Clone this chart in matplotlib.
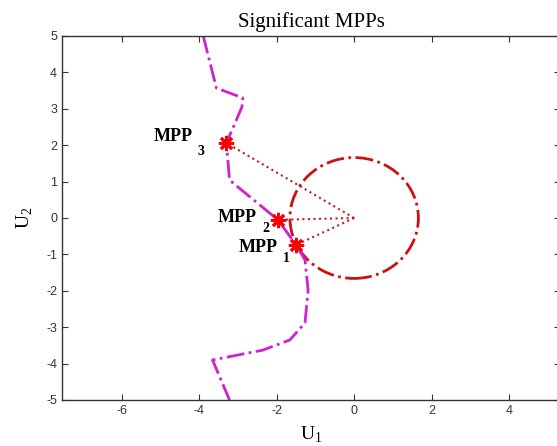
import matplotlib
matplotlib.use("Agg")
from matplotlib import pyplot as plt
from matplotlib.patches import Circle

plt.rcParams["axes.unicode_minus"] = False

# Curva de estado limite
curve_u1 = [-3.90, -3.56, -2.88, -2.90, -3.30, -3.22, -1.97, -1.50, -1.27, -1.19, -1.27, -1.66, -2.36, -3.66, -3.22]
curve_u2 = [5.00, 3.57, 3.30, 3.05, 2.06, 1.04, -0.05, -0.74, -1.15, -1.98, -2.88, -3.35, -3.63, -3.90, -5.00]

# Puntos MPP
mpp_names = ["1", "2", "3"]
mpp_u1 = [-1.50, -1.97, -3.30]
mpp_u2 = [-0.74, -0.05, 2.06]

beta_radius = 1.66
x_ticks = [-6, -4, -2, 0, 2, 4]
y_ticks = [-5, -4, -3, -2, -1, 0, 1, 2, 3, 4, 5]

# desplazamiento de las etiquetas en pixeles (x, y)
label_off = [(-18, -7), (-21, -2), (-34, 2)]
sub_drop = [10, 10, 14]

fig = plt.figure(figsize=(5.57, 4.46), dpi=100)
ax = fig.add_axes([62 / 557, 46 / 446, 498 / 557, 364 / 446])

ax.plot(curve_u1, curve_u2, linestyle="-.", color="#d020d0", linewidth=2)

circ = Circle((0, 0), beta_radius, fill=False, linestyle="-.", edgecolor="#cc1111", linewidth=2)
ax.add_patch(circ)

for i in range(len(mpp_u1)):
    ax.plot([0, mpp_u1[i]], [0, mpp_u2[i]], linestyle=":", color="#c02020", linewidth=1.5)

ax.plot(mpp_u1, mpp_u2, linestyle="none", marker=(8, 2, 0), markersize=11, color="#ff0000", markeredgewidth=2)

for i in range(len(mpp_u1)):
    dx, dy = label_off[i]
    ax.annotate("MPP", (mpp_u1[i], mpp_u2[i]), xytext=(dx, dy), textcoords="offset pixels",
                ha="right", va="baseline", fontfamily="Liberation Serif", fontweight="bold", fontsize=13)
    ax.annotate(mpp_names[i], (mpp_u1[i], mpp_u2[i]), xytext=(dx + 5, dy - sub_drop[i]),
                textcoords="offset pixels", ha="left", va="baseline",
                fontfamily="Liberation Serif", fontweight="bold", fontsize=10)

ax.set_xlim(-7.55, 5.32)
ax.set_ylim(-5, 5)
ax.set_xticks(x_ticks)
ax.set_yticks(y_ticks)
ax.tick_params(direction="in", top=True, right=True, length=4, width=0.8,
               labelsize=9, labelcolor="#333333", colors="#333333")
for lab in ax.get_xticklabels() + ax.get_yticklabels():
    lab.set_fontfamily("Liberation Sans")
for s in ax.spines.values():
    s.set_color("#333333")
    s.set_linewidth(1)

ax.set_title("Significant MPPs", fontfamily="Liberation Serif", fontsize=15, pad=6.5)
ax.set_xlabel("U$_\\mathregular{1}$", fontfamily="Liberation Serif", fontsize=14, labelpad=6)
ax.set_ylabel("U$_\\mathregular{2}$", fontfamily="Liberation Serif", fontsize=14, labelpad=8)

fig.savefig("out.png", dpi=100)
